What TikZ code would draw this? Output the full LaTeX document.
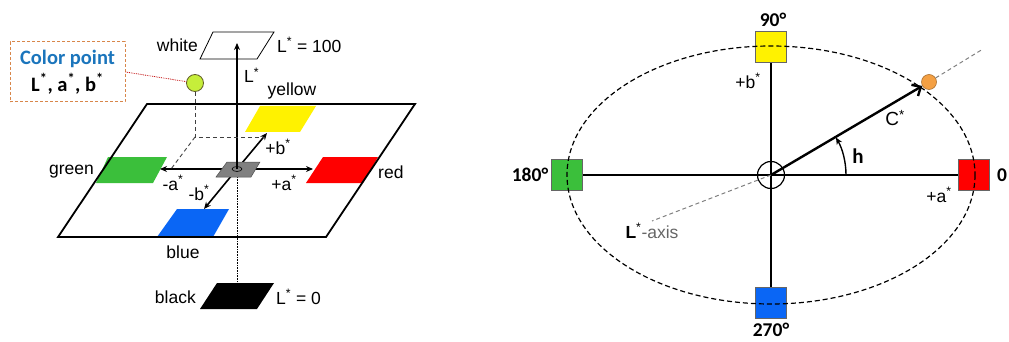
\documentclass[tikz,border=0pt]{standalone}
\usepackage{fontspec}
\setmainfont{Liberation Sans}
\newfontfamily\carl{Carlito}
\usetikzlibrary{arrows.meta}

\definecolor{labgreen}{HTML}{3BBF3B}
\definecolor{labblue}{HTML}{0A66F5}
\definecolor{cpgreen}{HTML}{C6EE3A}
\definecolor{cporange}{HTML}{D8864A}
\definecolor{cpblue}{HTML}{1B75BC}
\definecolor{dotorange}{HTML}{F4A043}
\newcommand{\sstar}{\textsuperscript{*}}

\begin{document}
\begin{tikzpicture}[x=1pt, y=-1pt, font=\fontsize{17.5}{21}\selectfont,
  ax/.style={line width=1.6pt, -{Stealth[length=7pt,width=6pt]}},
  sq/.style={draw=black!60, line width=0.6pt, minimum size=31pt, inner sep=0pt},
  deg/.style={font=\carl\bfseries\fontsize{19.5}{22}\selectfont},
  lbl/.style={inner sep=1pt}]
  \useasboundingbox (0,0) rectangle (1009,342);

  % ---- left: L*a*b* space
  % colour patches on the a*b* plane
  \fill[yellow] (260,106) -- (316,106) -- (300,132) -- (245,132) -- cycle;
  \fill[labgreen] (108,157) -- (167,157) -- (153,183) -- (96,183) -- cycle;
  \fill[red] (323,157) -- (378,157) -- (363,183) -- (306,183) -- cycle;
  \fill[labblue] (177,209) -- (229,209) -- (213,237) -- (157,237) -- cycle;
  \draw[line width=1.8pt] (147,104) -- (415,104) -- (326,237) -- (58,237) -- cycle;
  % white / black ends of the L* axis
  \draw[line width=0.8pt] (213,32) -- (274,32) -- (257,59) -- (200,59) -- cycle;
  \fill (217,283) -- (274,283) -- (257,309) -- (200,309) -- cycle;

  \coordinate (O) at (237,169);
  \coordinate (ap) at (313,169);
  \coordinate (am) at (160,169);
  \coordinate (bp) at (267,133);
  \coordinate (bm) at (204,209);
  \coordinate (Lt) at (237,43);
  \coordinate (blk) at (237,283);

  \draw[densely dotted, line width=0.6pt] (O) -- (blk);
  \foreach \e in {ap,am,bp,bm}{\draw[ax] (O) -- (\e);}
  \filldraw[fill=gray, draw=black!70, line width=0.5pt] (227,162) -- (260,162) -- (251,177) -- (216,177) -- cycle;
  \draw[line width=0.6pt] (O) ellipse [x radius=5, y radius=2.5];
  \draw[ax] (O) -- (Lt);

  % colour point and its projection
  \node[circle, draw=olive!60!black, fill=cpgreen, line width=0.8pt, minimum size=17pt, inner sep=0pt] (cp) at (195,83) {};
  \coordinate (cpf) at (195,137);
  \coordinate (cpb) at (265,137);
  \coordinate (cpa) at (171,169);
  \draw[dash pattern=on 4pt off 3pt, line width=0.9pt, black!75] (cp) -- (cpf) -- (cpb);
  \draw[dash pattern=on 4pt off 3pt, line width=0.9pt, black!75] (cpf) -- (cpa);
  \node[draw=cporange, densely dashed, line width=1pt, align=center, minimum width=115pt, minimum height=60pt,
        font=\carl\bfseries\fontsize{20.5}{27}\selectfont] (cpbox) at (67.5,72)
        {{\color{cpblue}Color point}\\L\sstar, a\sstar, b\sstar};
  \draw[red!75!black, densely dotted, line width=0.8pt] (cpbox.east) -- (cp);

  % labels
  \node[lbl, anchor=east] (lwhite) at (199,45) {white};
  \node[lbl, anchor=west] (l100) at (276,45) {L\sstar\ = 100};
  \node[lbl, anchor=west] (lL) at (243,75) {L\sstar};
  \node[lbl] (lyellow) at (292,91) {yellow};
  \node[lbl, anchor=east] (lgreen) at (95,172) {green};
  \node[lbl, anchor=west] (lred) at (377,172) {red};
  \node[lbl] (lblue) at (183,252) {blue};
  \node[lbl, anchor=east] (lblack) at (197,297) {black};
  \node[lbl, anchor=west] (l0) at (275,297) {L\sstar\ = 0};
  \node[lbl] (lbp) at (278,147) {+b\sstar};
  \node[lbl] (lam) at (173,183) {-a\sstar};
  \node[lbl] (lbm) at (199,193) {-b\sstar};
  \node[lbl] (lap) at (284,183) {+a\sstar};

  % ---- right: hue circle
  \coordinate (C) at (771,175);
  \foreach \n/\x/\y/\c in {sqR/974/175/red, sqY/771/47/yellow, sqG/567/175/labgreen, sqB/771/303/labblue}{
    \node[sq, fill=\c] (\n) at (\x,\y) {};}
  \draw[line width=1.2pt] (sqG) -- (sqR);
  \draw[line width=1.2pt] (sqY) -- (sqB);
  \draw[dash pattern=on 5pt off 3pt, line width=1.2pt] (C) ellipse [x radius=204, y radius=129];
  \node[circle, draw, line width=1.2pt, minimum size=27pt, inner sep=0pt] (ctr) at (C) {};
  % L* axis seen from above
  \node[circle, draw=dotorange!70!black, fill=dotorange, line width=0.6pt, minimum size=15pt, inner sep=0pt] (cpt) at (929,82) {};
  \coordinate (Lup) at (983,49);
  \coordinate (Ldn) at (652,221);
  \draw[gray, dash pattern=on 4pt off 3pt, line width=1pt] (cpt) -- (Lup);
  \draw[gray, dash pattern=on 4pt off 3pt, line width=1pt] (C) -- (Ldn);
  % chroma vector and hue angle
  \draw[line width=2.4pt, -{Straight Barb[length=7pt,width=13pt]}] (ctr.center) -- (cpt);
  \draw[line width=1.4pt, -{Stealth[length=7pt,width=6pt]}] ([xshift=75pt]C) arc[start angle=0, end angle=-30, radius=75];

  \node[deg] (d90) at (773,20) {90°};
  \node[deg] (d270) at (771,330) {270°};
  \node[deg] (d180) at (530,175) {180°};
  \node[deg] (d0) at (1002,175) {0};
  \node[lbl] (rbp) at (748,81) {+b\sstar};
  \node[lbl] (rap) at (939,195) {+a\sstar};
  \node[lbl, font=\fontsize{19}{22}\selectfont] (rC) at (895,118) {C\sstar};
  \node[lbl, font=\carl\bfseries\fontsize{21}{24}\selectfont] (rh) at (858,156) {h};
  \node[lbl] (rL) at (652,231) {\textbf{L}\sstar\textcolor{black!60}{-axis}};
\end{tikzpicture}
\end{document}
